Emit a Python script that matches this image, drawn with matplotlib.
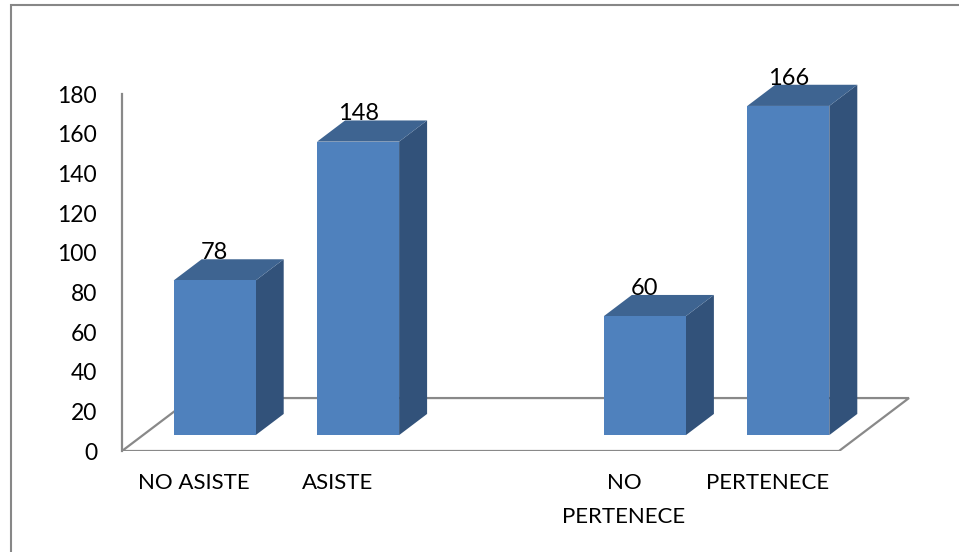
import matplotlib.pyplot as plt
from matplotlib.patches import Polygon, Rectangle

plt.rcParams['font.family'] = ['Lato', 'DejaVu Sans']

# categories (the empty slot separates the two groups)
categories = ['NO ASISTE', 'ASISTE', '', 'NO\nPERTENECE', 'PERTENECE']
values = [78, 148, None, 60, 166]
yticks = [0, 20, 40, 60, 80, 100, 120, 140, 160, 180]

# oblique 3D look: depth 0 = front edge of floor, 1 = back edge
DX = 0.488   # x shift for full depth (category units)
DY = 26.7    # y shift for full depth (value units)
f0, f1 = 0.30, 0.70   # bar front/back depth
half_w = 0.286

front_col = '#4F81BD'
top_col = '#3E6491'
side_col = '#32527A'
line_col = '#898989'


def proj(x, v, d):
    return (x + d * DX, v + d * DY)


fig = plt.figure(figsize=(9.59, 5.52), dpi=100)
ax = fig.add_axes([122 / 959, 101 / 552, 5.55 * 143.4 / 959, 200 * 1.983 / 552])
ax.set_xlim(0, 5.55)
ax.set_ylim(0, 200)

# outer frame
fig.patches.append(Rectangle((10.5 / 959, -0.1), 1.2, 547 / 552 + 0.1,
                             transform=fig.transFigure, fill=False,
                             edgecolor='#878787', lw=1.5))

# floor
n = len(categories)
floor = [proj(0, 0, 0), proj(n, 0, 0), proj(n, 0, 1), proj(0, 0, 1)]
ax.add_patch(Polygon(floor, closed=True, facecolor='white',
                     edgecolor=line_col, lw=1.6, zorder=1))

for i, v in enumerate(values):
    if v is None:
        continue
    c = i + 0.5
    xl, xr = c - half_w, c + half_w
    front = [proj(xl, 0, f0), proj(xr, 0, f0), proj(xr, v, f0), proj(xl, v, f0)]
    top = [proj(xl, v, f0), proj(xr, v, f0), proj(xr, v, f1), proj(xl, v, f1)]
    side = [proj(xr, 0, f0), proj(xr, v, f0), proj(xr, v, f1), proj(xr, 0, f1)]
    ax.add_patch(Polygon(side, closed=True, facecolor=side_col, edgecolor='none', zorder=3))
    ax.add_patch(Polygon(top, closed=True, facecolor=top_col, edgecolor='none', zorder=3))
    ax.add_patch(Polygon(front, closed=True, facecolor=front_col, edgecolor='none', zorder=3))
    lx, ly = proj(c, v, f1)
    ax.text(c + f0 * DX, ly, str(v), ha='center', va='baseline',
            fontsize=17, color='black', zorder=5)

for s in ['top', 'right', 'bottom']:
    ax.spines[s].set_visible(False)
ax.spines['left'].set_color(line_col)
ax.spines['left'].set_linewidth(1.6)
ax.spines['left'].set_bounds(0, 180)

ax.set_yticks(yticks)
ax.set_xticks([i + 0.5 for i in range(n)])
ax.set_xticklabels(categories, linespacing=1.85)
ax.tick_params(axis='y', length=0, pad=18, labelsize=16.5)
ax.tick_params(axis='x', length=0, pad=16, labelsize=16)

fig.savefig('out.png', dpi=100)
